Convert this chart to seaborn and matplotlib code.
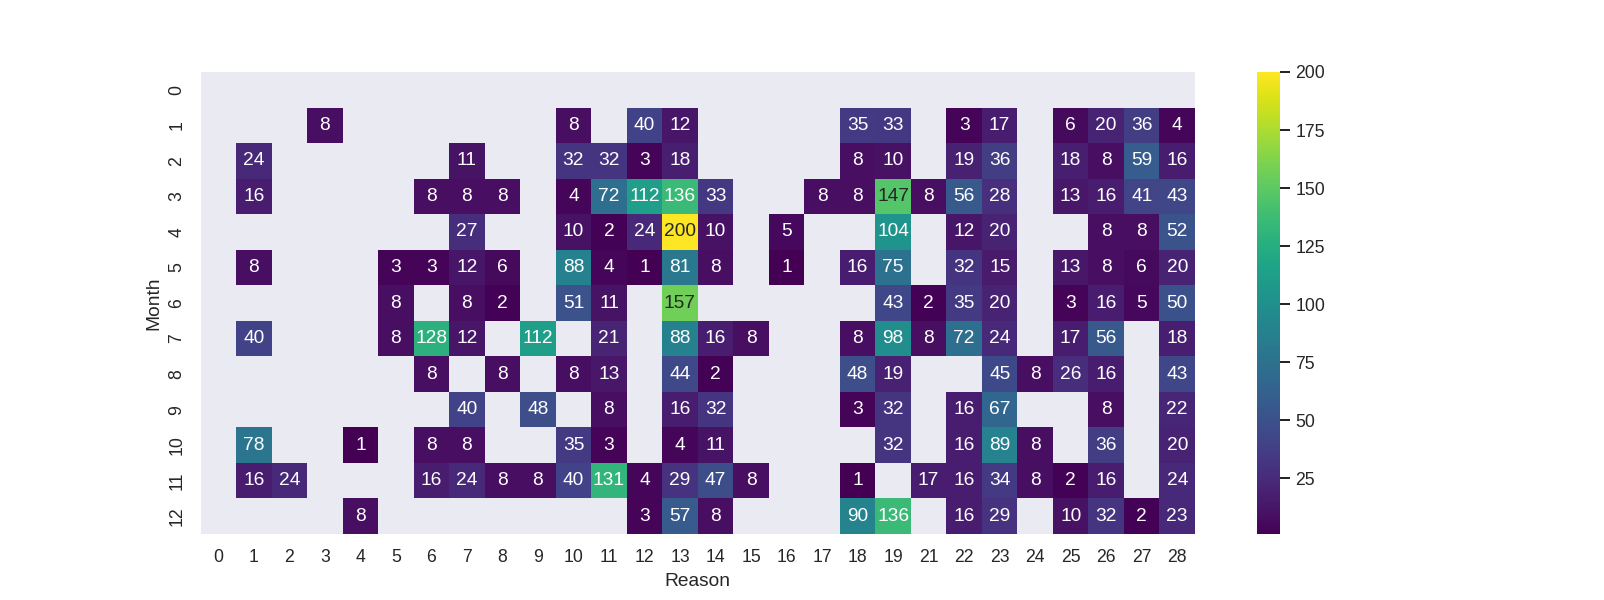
import numpy as np
import pandas as pd
import seaborn as sns
import matplotlib.pyplot as plt

# Reasons on the x axis (no reason 20 in the data)
reasons = list(range(0, 20)) + list(range(21, 29))
months = list(range(0, 13))

# counts per month, keyed by reason (missing = no absences)
month_0 = {}
month_1 = {3: 8, 10: 8, 12: 40, 13: 12, 18: 35, 19: 33, 22: 3, 23: 17, 25: 6, 26: 20, 27: 36, 28: 4}
month_2 = {1: 24, 7: 11, 10: 32, 11: 32, 12: 3, 13: 18, 18: 8, 19: 10, 22: 19, 23: 36, 25: 18, 26: 8, 27: 59, 28: 16}
month_3 = {1: 16, 6: 8, 7: 8, 8: 8, 10: 4, 11: 72, 12: 112, 13: 136, 14: 33, 17: 8, 18: 8, 19: 147, 21: 8,
           22: 56, 23: 28, 25: 13, 26: 16, 27: 41, 28: 43}
month_4 = {7: 27, 10: 10, 11: 2, 12: 24, 13: 200, 14: 10, 16: 5, 19: 104, 22: 12, 23: 20, 26: 8, 27: 8, 28: 52}
month_5 = {1: 8, 5: 3, 6: 3, 7: 12, 8: 6, 10: 88, 11: 4, 12: 1, 13: 81, 14: 8, 16: 1, 18: 16, 19: 75, 22: 32,
           23: 15, 25: 13, 26: 8, 27: 6, 28: 20}
month_6 = {5: 8, 7: 8, 8: 2, 10: 51, 11: 11, 13: 157, 19: 43, 21: 2, 22: 35, 23: 20, 25: 3, 26: 16, 27: 5, 28: 50}
month_7 = {1: 40, 5: 8, 6: 128, 7: 12, 9: 112, 11: 21, 13: 88, 14: 16, 15: 8, 18: 8, 19: 98, 21: 8, 22: 72,
           23: 24, 25: 17, 26: 56, 28: 18}
month_8 = {6: 8, 8: 8, 10: 8, 11: 13, 13: 44, 14: 2, 18: 48, 19: 19, 23: 45, 24: 8, 25: 26, 26: 16, 28: 43}
month_9 = {7: 40, 9: 48, 11: 8, 13: 16, 14: 32, 18: 3, 19: 32, 22: 16, 23: 67, 26: 8, 28: 22}
month_10 = {1: 78, 4: 1, 6: 8, 7: 8, 10: 35, 11: 3, 13: 4, 14: 11, 19: 32, 22: 16, 23: 89, 24: 8, 26: 36, 28: 20}
month_11 = {1: 16, 2: 24, 6: 16, 7: 24, 8: 8, 9: 8, 10: 40, 11: 131, 12: 4, 13: 29, 14: 47, 15: 8, 18: 1,
            21: 17, 22: 16, 23: 34, 24: 8, 25: 2, 26: 16, 28: 24}
month_12 = {4: 8, 12: 3, 13: 57, 14: 8, 18: 90, 19: 136, 22: 16, 23: 29, 25: 10, 26: 32, 27: 2, 28: 23}

rows = [month_0, month_1, month_2, month_3, month_4, month_5, month_6,
        month_7, month_8, month_9, month_10, month_11, month_12]

# pivot table style frame, NaN where there is no value
table = pd.DataFrame([[r.get(c, np.nan) for c in reasons] for r in rows],
                     index=pd.Index(months, name='Month'),
                     columns=pd.Index(reasons, name='Reason'))

sns.set()
plt.rcParams['font.family'] = ['Liberation Sans', 'DejaVu Sans']

# 1604 x 600 px at a slightly higher dpi so the text comes out a bit larger
fig = plt.figure(figsize=(1604 / 115, 600 / 115), dpi=115)
ax = sns.heatmap(table, annot=True, fmt='g', cmap='viridis')
ax.grid(False)
plt.savefig('out.png', dpi=115)
